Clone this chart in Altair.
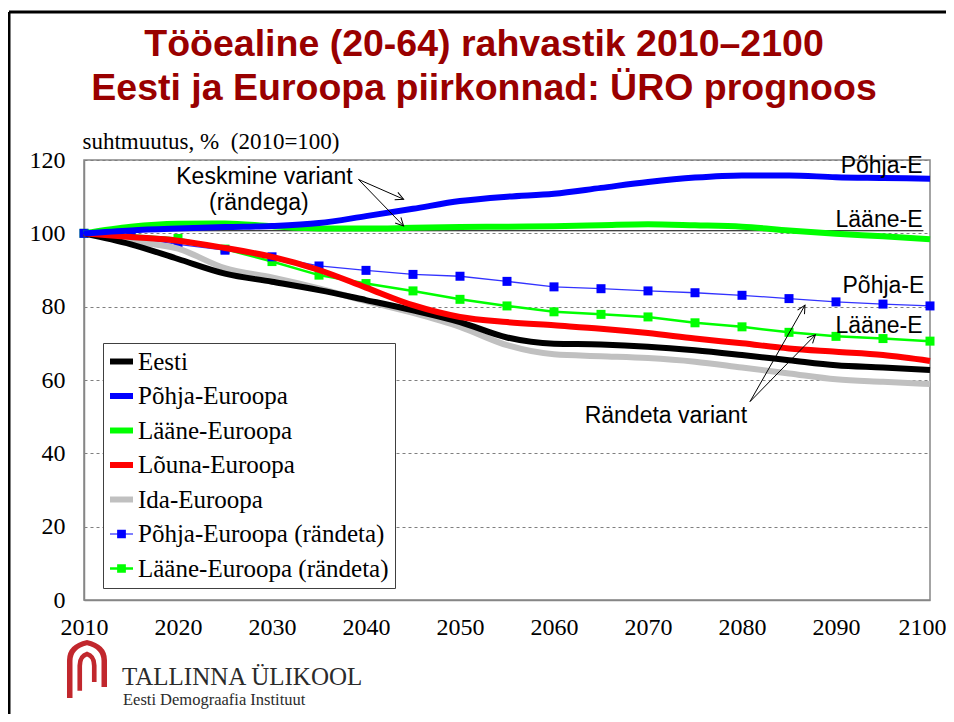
import math
import altair as alt
import pandas as pd

SANS = "Liberation Sans"
SERIF = "Liberation Serif"

# ---------------- data ----------------
years = list(range(2010, 2101, 5))

eesti = [100, 97.0, 93.0, 89.0, 86.8, 84.5, 81.8, 79.0, 75.8, 71.6, 69.9, 69.7, 69.1, 68.1, 66.8, 65.4, 64.0, 63.4, 62.7]
pohja = [100, 100.8, 101.3, 101.7, 102.0, 102.8, 104.7, 106.7, 108.8, 110.0, 110.8, 112.4, 114.0, 115.2, 115.8, 115.8, 115.3, 115.1, 114.9]
laane = [100, 101.8, 102.6, 102.7, 101.9, 101.3, 101.3, 101.5, 101.7, 101.8, 101.9, 102.2, 102.5, 102.2, 101.8, 100.8, 99.9, 99.2, 98.4]
louna = [100, 99.0, 98.0, 96.0, 93.6, 90.0, 85.2, 80.4, 77.2, 75.8, 74.9, 74.0, 72.8, 71.3, 70.0, 68.6, 67.7, 66.8, 65.2]
ida = [100, 97.8, 95.8, 90.5, 88.0, 85.0, 81.5, 78.3, 74.5, 69.5, 67.0, 66.5, 66.0, 65.0, 63.4, 61.8, 60.2, 59.5, 58.9]
pohja_r = [100, 99.0, 97.0, 95.4, 93.6, 91.1, 89.9, 88.8, 88.3, 86.9, 85.4, 84.9, 84.3, 83.8, 83.1, 82.2, 81.3, 80.7, 80.2]
laane_r = [100, 99.5, 98.6, 95.7, 92.3, 88.6, 86.3, 84.3, 82.0, 80.2, 78.6, 77.9, 77.2, 75.6, 74.5, 73.0, 71.9, 71.3, 70.6]

names = ["Eesti", "Põhja-Euroopa", "Lääne-Euroopa", "Lõuna-Euroopa", "Ida-Euroopa",
         "Põhja-Euroopa (rändeta)", "Lääne-Euroopa (rändeta)"]
colors = ["#000000", "#0000FF", "#00FF00", "#FF0000", "#C0C0C0", "#0000FF", "#00FF00"]
series_values = [eesti, pohja, laane, louna, ida, pohja_r, laane_r]

# annotation texts (data coordinates)
ann_text = ["Keskmine variant", "(rändega)", "Põhja-E", "Lääne-E", "Põhja-E", "Lääne-E", "Rändeta variant"]
ann_x = [2029.2, 2028.6, 2099.2, 2099.2, 2099.4, 2099.2, 2071.9]
ann_y = [113.4, 106.5, 116.4, 101.6, 83.8, 72.8, 48.4]
ann_align = ["center", "center", "right", "right", "right", "right", "center"]

# arrows
arr_x1 = [2039.2, 2039.2, 2080.85, 2080.85]
arr_y1 = [114.7, 114.7, 54.1, 54.1]
arr_x2 = [2044.0, 2044.0, 2086.7, 2087.8]
arr_y2 = [109.3, 102.0, 80.4, 72.3]

# reference line under labels
ref_x = [2010, 2099.3]
ref_y = [100.7, 100.7]

title_lines = ["Tööealine (20-64) rahvastik 2010–2100",
               "Eesti ja Euroopa piirkonnad: ÜRO prognoos"]
logo_lines = ["TALLINNA ÜLIKOOL", "Eesti Demograafia Instituut"]

# ---------------- layout ----------------
W, H = 846, 440
PAD = {"left": 76, "top": 152, "right": 16, "bottom": 114}

rows = []
for n, vals in zip(names, series_values):
    for yr, v in zip(years, vals):
        rows.append({"year": yr, "value": v, "series": n})
df = pd.DataFrame(rows)

xscale = alt.Scale(domain=[2010, 2100], nice=False, zero=False)
yscale = alt.Scale(domain=[0, 120], nice=False, zero=True)

last_test = "datum.value == 2100"
xaxis = alt.Axis(values=list(range(2010, 2101, 10)), format="d", title=None, grid=False,
                 ticks=False, tickSize=0, labelFont=SERIF, labelFontSize=24, labelColor="black",
                 labelFontWeight="normal",
                 labelAlign={"condition": {"test": last_test, "value": "right"}, "value": "center"},
                 labelOffset={"condition": {"test": last_test, "value": 16}, "value": 0},
                 labelPadding=15, domainColor="#868686", domainWidth=1.5, labelFlush=False,
                 labelOverlap=False)
yaxis = alt.Axis(values=list(range(0, 121, 20)), title="suhtmuutus, %\u00a0 (2010=100)",
                 titleAngle=0, titleX=-2, titleY=-12, titleAlign="left",
                 titleBaseline="alphabetic", titleFont=SERIF, titleFontSize=23,
                 titleFontWeight="normal", titleColor="black",
                 grid=True, gridDash=[3, 3], gridColor="#7f7f7f", gridWidth=1,
                 ticks=False, tickSize=0, labelFont=SERIF, labelFontSize=24,
                 labelFontWeight="normal",
                 labelColor="black", labelPadding=19, domainColor="#868686", domainWidth=1.5)


def X(f="year"):
    return alt.X(f"{f}:Q", scale=xscale, axis=xaxis)


def Y(f="value"):
    return alt.Y(f"{f}:Q", scale=yscale, axis=yaxis)


layers = []

# reference rule
ref_df = pd.DataFrame({"x": [ref_x[0]], "x2": [ref_x[1]], "y": [ref_y[0]]})
layers.append(alt.Chart(ref_df).mark_rule(color="black", strokeWidth=1.2).encode(
    x=X("x"), x2="x2:Q", y=Y("y")))

# no-migration series (thin lines + squares)
for n, col, mcol, sw in [(names[6], "#00FF00", "#00FF00", 2.5), (names[5], "#3333FF", "#0000FF", 1.3)]:
    sub = df[df.series == n]
    layers.append(alt.Chart(sub).mark_line(color=col, strokeWidth=sw).encode(x=X(), y=Y()))
    layers.append(alt.Chart(sub).mark_square(color=mcol, size=81, opacity=1).encode(x=X(), y=Y()))

# main series, thick smooth lines
for idx in [4, 0, 3, 2, 1]:
    sub = df[df.series == names[idx]]
    layers.append(alt.Chart(sub).mark_line(color=colors[idx], strokeWidth=6, interpolate="monotone",
                                           strokeJoin="round").encode(x=X(), y=Y()))

# annotation arrows
sx = W / 90.0
sy = H / 120.0
angs = []
for a, b, c, d in zip(arr_x1, arr_y1, arr_x2, arr_y2):
    dx = (c - a) * sx
    dy = -(d - b) * sy
    angs.append(math.degrees(math.atan2(dx, -dy)) % 360)
arr_df = pd.DataFrame({"x1": arr_x1, "y1": arr_y1, "x2": arr_x2, "y2": arr_y2, "ang": angs})
layers.append(alt.Chart(arr_df).mark_rule(color="black", strokeWidth=1).encode(
    x=X("x1"), y=Y("y1"), x2="x2:Q", y2="y2:Q"))
layers.append(alt.Chart(arr_df).mark_point(shape="M-0.5,1L0,0L0.5,1", filled=False, stroke="black",
                                           strokeWidth=1, size=256, opacity=1).encode(
    x=X("x2"), y=Y("y2"), angle=alt.Angle("ang:Q", scale=None)))

# annotation texts
ann_df = pd.DataFrame({"t": ann_text, "x": ann_x, "y": ann_y, "al": ann_align})
for al in ["center", "right"]:
    layers.append(alt.Chart(ann_df[ann_df.al == al]).mark_text(
        font=SANS, fontSize=23, color="black", align=al, baseline="alphabetic").encode(
        x=X("x"), y=Y("y"), text="t:N"))

# legend source layer (invisible marks, legend drawn by the library)
thick_path = "M-1,-0.26L1,-0.26L1,0.26L-1,0.26Z"
blue_r_path = "M-1,-0.05L1,-0.05L1,0.05L-1,0.05Z M-0.38,-0.38L0.38,-0.38L0.38,0.38L-0.38,0.38Z"
green_r_path = "M-1,-0.1L1,-0.1L1,0.1L-1,0.1Z M-0.38,-0.38L0.38,-0.38L0.38,0.38L-0.38,0.38Z"
paths = [thick_path] * 5 + [blue_r_path, green_r_path]
leg = alt.Legend(title=None, orient="none", legendX=19, legendY=183, fillColor="white",
                 strokeColor="#404040", padding=6, rowPadding=8.5, labelFont=SERIF,
                 labelFontSize=25, labelFontWeight="normal", labelColor="black", labelOffset=4,
                 labelExpr="datum.label + '\u00a0\u00a0'",
                 labelLimit=400, symbolSize=529, symbolStrokeWidth=0, symbolOpacity=1)
layers.append(alt.Chart(df).mark_point(filled=True, opacity=0).encode(
    x=X(), y=Y(),
    color=alt.Color("series:N", scale=alt.Scale(domain=names, range=colors), legend=leg),
    shape=alt.Shape("series:N", scale=alt.Scale(domain=names, range=paths), legend=leg)))

# title
for i, (t, py) in enumerate(zip(title_lines, [-104, -60.5])):
    layers.append(alt.Chart(pd.DataFrame({"t": [t]})).mark_text(
        font=SANS, fontSize=37.5, fontWeight="bold", color="#990000", align="center",
        baseline="alphabetic").encode(text="t:N", x=alt.value(400), y=alt.value(py)))

# logo
layers.append(alt.Chart(pd.DataFrame({"t": [logo_lines[0]]})).mark_text(
    font=SERIF, fontSize=25, color="#2b2b2b", align="left", baseline="alphabetic").encode(
    text="t:N", x=alt.value(38), y=alt.value(525)))
layers.append(alt.Chart(pd.DataFrame({"t": [logo_lines[1]]})).mark_text(
    font=SERIF, fontSize=16.5, color="#2b2b2b", align="left", baseline="alphabetic").encode(
    text="t:N", x=alt.value(39), y=alt.value(545)))
logo_path = ("M-0.69,1L-0.69,-0.3Q-0.69,-0.85,0,-1Q0.69,-0.85,0.69,-0.3L0.69,0.62L0.5,0.62L0.5,-0.28"
             "Q0.5,-0.7,0,-0.82Q-0.5,-0.7,-0.5,-0.28L-0.5,1Z"
             "M-0.33,0.75L-0.33,-0.12Q-0.33,-0.5,0,-0.6Q0.33,-0.5,0.33,-0.12L0.33,0.45L0.17,0.45"
             "L0.17,-0.1Q0.17,-0.38,0,-0.43Q-0.17,-0.38,-0.17,-0.1L-0.17,0.75Z")
layers.append(alt.Chart(pd.DataFrame({"k": [1]})).mark_point(
    shape=logo_path, filled=True, color="#C1272D", size=3364, opacity=1, strokeWidth=0).encode(
    x=alt.value(3), y=alt.value(509)))

# slide border (left and top)
layers.append(alt.Chart(pd.DataFrame({"k": [1]})).mark_rule(color="black", strokeWidth=3).encode(
    x=alt.value(-75), y=alt.value(-148), y2=alt.value(560)))
layers.append(alt.Chart(pd.DataFrame({"k": [1]})).mark_rule(color="black", strokeWidth=3).encode(
    x=alt.value(-75), x2=alt.value(870), y=alt.value(-148)))

chart = alt.layer(*layers).properties(
    width=W, height=H, padding=PAD, autosize=alt.AutoSizeParams(type="none"),
    background="white"
).configure_view(
    stroke="#868686", strokeWidth=1.5
).configure_axis(
    labelFont=SERIF, titleFont=SERIF, labelFontWeight="normal"
).configure_legend(
    labelFont=SERIF, labelFontWeight="normal"
)

chart.save("out.html", embed_options={"renderer": "svg", "actions": False})
